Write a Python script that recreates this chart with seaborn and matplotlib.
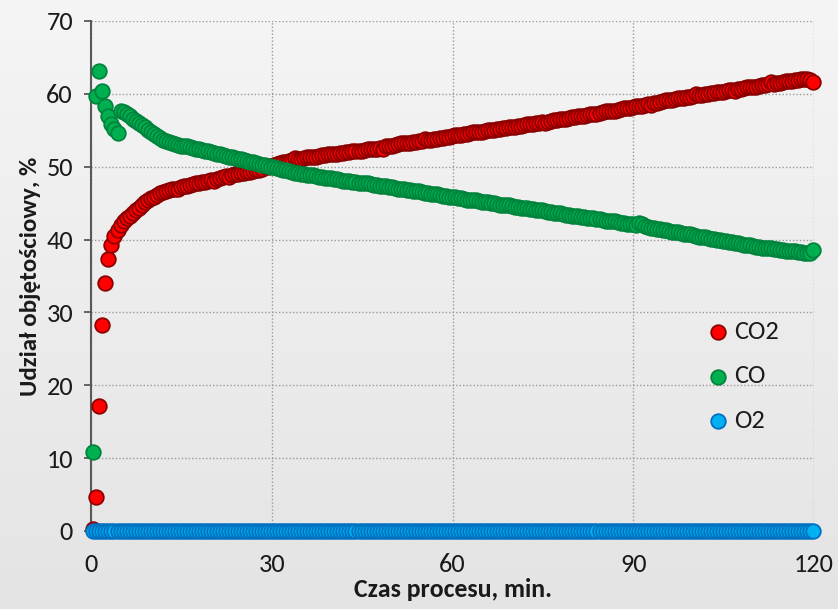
import numpy as np
import pandas as pd
import matplotlib
matplotlib.use("Agg")
import matplotlib.pyplot as plt
from matplotlib import font_manager
from matplotlib.colors import LinearSegmentedColormap
import seaborn as sns

# ---------------- data ----------------
time_min = [
    0.4, 0.9, 1.4, 1.9, 2.4, 2.9, 3.4, 3.9, 4.4, 4.9, 5.4, 5.9, 6.4, 6.9, 7.4, 7.9, 8.4, 8.9, 9.4, 9.9,
    10.4, 10.9, 11.4, 11.9, 12.4, 12.9, 13.4, 13.9, 14.4, 14.9, 15.4, 15.9, 16.4, 16.9, 17.4, 17.9, 18.4, 18.9, 19.4, 19.9,
    20.4, 20.9, 21.4, 21.9, 22.4, 22.9, 23.4, 23.9, 24.4, 24.9, 25.4, 25.9, 26.4, 26.9, 27.4, 27.9, 28.4, 28.9, 29.4, 29.9,
    30.4, 30.9, 31.4, 31.9, 32.4, 32.9, 33.4, 33.9, 34.4, 34.9, 35.4, 35.9, 36.4, 36.9, 37.4, 37.9, 38.4, 38.9, 39.4, 39.9,
    40.4, 40.9, 41.4, 41.9, 42.4, 42.9, 43.4, 43.9, 44.4, 44.9, 45.4, 45.9, 46.4, 46.9, 47.4, 47.9, 48.4, 48.9, 49.4, 49.9,
    50.4, 50.9, 51.4, 51.9, 52.4, 52.9, 53.4, 53.9, 54.4, 54.9, 55.4, 55.9, 56.4, 56.9, 57.4, 57.9, 58.4, 58.9, 59.4, 59.9,
    60.4, 60.9, 61.4, 61.9, 62.4, 62.9, 63.4, 63.9, 64.4, 64.9, 65.4, 65.9, 66.4, 66.9, 67.4, 67.9, 68.4, 68.9, 69.4, 69.9,
    70.4, 70.9, 71.4, 71.9, 72.4, 72.9, 73.4, 73.9, 74.4, 74.9, 75.4, 75.9, 76.4, 76.9, 77.4, 77.9, 78.4, 78.9, 79.4, 79.9,
    80.4, 80.9, 81.4, 81.9, 82.4, 82.9, 83.4, 83.9, 84.4, 84.9, 85.4, 85.9, 86.4, 86.9, 87.4, 87.9, 88.4, 88.9, 89.4, 89.9,
    90.4, 90.9, 91.4, 91.9, 92.4, 92.9, 93.4, 93.9, 94.4, 94.9, 95.4, 95.9, 96.4, 96.9, 97.4, 97.9, 98.4, 98.9, 99.4, 99.9,
    100.4, 100.9, 101.4, 101.9, 102.4, 102.9, 103.4, 103.9, 104.4, 104.9, 105.4, 105.9, 106.4, 106.9, 107.4, 107.9, 108.4, 108.9, 109.4, 109.9,
    110.4, 110.9, 111.4, 111.9, 112.4, 112.9, 113.4, 113.9, 114.4, 114.9, 115.4, 115.9, 116.4, 116.9, 117.4, 117.9, 118.4, 118.9, 119.4, 119.9,
]

co2 = [
    0.3, 4.7, 17.2, 28.3, 34.0, 37.3, 39.3, 40.5, 41.3, 42.0, 42.5, 42.9, 43.3, 43.6, 44.0, 44.4, 44.8, 45.2, 45.4, 45.7,
    45.9, 46.1, 46.4, 46.5, 46.7, 46.8, 46.9, 47.0, 47.0, 47.2, 47.3, 47.3, 47.5, 47.6, 47.7, 47.8, 47.9, 47.9, 48.1, 48.2,
    48.1, 48.3, 48.5, 48.6, 48.7, 48.6, 48.8, 49.0, 49.0, 49.1, 49.2, 49.3, 49.3, 49.4, 49.5, 49.6, 49.7, 49.9, 50.0, 50.1,
    50.3, 50.4, 50.5, 50.6, 50.7, 50.8, 50.9, 51.2, 51.0, 51.1, 51.2, 51.3, 51.3, 51.4, 51.4, 51.5, 51.6, 51.6, 51.7, 51.7,
    51.8, 51.8, 51.9, 51.9, 52.0, 52.0, 52.1, 52.1, 52.2, 52.2, 52.3, 52.4, 52.4, 52.5, 52.5, 52.6, 52.5, 52.8, 52.9, 52.9,
    53.0, 53.1, 53.2, 53.2, 53.3, 53.3, 53.4, 53.4, 53.5, 53.5, 53.8, 53.6, 53.7, 53.8, 53.8, 53.9, 54.0, 54.1, 54.1, 54.2,
    54.3, 54.3, 54.4, 54.5, 54.5, 54.6, 54.7, 54.7, 54.8, 54.8, 54.9, 55.0, 55.0, 55.1, 55.2, 55.2, 55.3, 55.3, 55.4, 55.5,
    55.5, 55.6, 55.6, 55.7, 55.8, 55.8, 55.9, 56.0, 56.0, 56.1, 56.0, 56.2, 56.3, 56.4, 56.4, 56.5, 56.6, 56.6, 56.7, 56.8,
    56.8, 56.9, 57.0, 57.0, 57.1, 57.2, 57.2, 57.3, 57.4, 57.5, 57.7, 57.6, 57.7, 57.7, 57.8, 57.9, 58.0, 58.0, 58.1, 58.2,
    58.3, 58.4, 58.4, 58.5, 58.6, 58.5, 58.8, 58.8, 58.9, 59.0, 59.1, 59.2, 59.2, 59.3, 59.4, 59.4, 59.5, 59.6, 59.6, 59.7,
    60.0, 59.8, 59.9, 60.0, 60.0, 60.1, 60.1, 60.2, 60.3, 60.3, 60.4, 60.5, 60.5, 60.4, 60.7, 60.7, 60.8, 60.9, 60.9, 61.0,
    61.0, 61.1, 61.2, 61.2, 61.3, 61.6, 61.4, 61.5, 61.5, 61.6, 61.7, 61.7, 61.8, 61.9, 61.9, 62.0, 62.0, 62.1, 61.9, 61.6,
]

co = [
    10.8, 59.7, 63.1, 60.4, 58.4, 56.9, 55.8, 55.2, 54.6, 57.7, 57.5, 57.2, 56.9, 56.6, 56.3, 56.0, 55.7, 55.4, 55.1, 54.8,
    54.5, 54.2, 53.9, 53.7, 53.5, 53.4, 53.2, 53.1, 53.0, 52.9, 52.9, 52.8, 52.7, 52.6, 52.5, 52.4, 52.3, 52.2, 52.1, 52.0,
    51.9, 51.8, 51.7, 51.6, 51.5, 51.4, 51.3, 51.2, 51.1, 51.0, 50.9, 50.8, 50.7, 50.6, 50.5, 50.4, 50.3, 50.2, 50.1, 50.0,
    49.9, 49.8, 49.7, 49.6, 49.5, 49.4, 49.3, 49.2, 49.1, 49.0, 49.0, 48.9, 48.9, 48.8, 48.7, 48.6, 48.6, 48.5, 48.5, 48.4,
    48.3, 48.3, 48.2, 48.1, 48.1, 48.0, 47.9, 47.9, 47.8, 47.8, 47.7, 47.7, 47.6, 47.5, 47.5, 47.4, 47.4, 47.3, 47.2, 47.2,
    47.1, 47.0, 47.0, 46.9, 46.8, 46.8, 46.7, 46.6, 46.6, 46.5, 46.4, 46.4, 46.3, 46.2, 46.2, 46.1, 46.0, 46.0, 45.9, 45.9,
    45.8, 45.7, 45.7, 45.6, 45.5, 45.5, 45.4, 45.4, 45.3, 45.2, 45.2, 45.1, 45.0, 45.0, 44.9, 44.8, 44.8, 44.7, 44.7, 44.6,
    44.5, 44.5, 44.4, 44.3, 44.3, 44.2, 44.2, 44.1, 44.0, 44.0, 43.9, 43.8, 43.8, 43.7, 43.6, 43.6, 43.5, 43.4, 43.4, 43.3,
    43.3, 43.2, 43.1, 43.1, 43.0, 42.9, 42.9, 42.8, 42.8, 42.7, 42.6, 42.6, 42.5, 42.5, 42.4, 42.3, 42.3, 42.2, 42.1, 42.1,
    42.0, 42.3, 42.2, 41.8, 41.7, 41.6, 41.6, 41.5, 41.4, 41.3, 41.3, 41.2, 41.1, 41.0, 41.0, 40.9, 40.8, 40.7, 40.7, 40.6,
    40.5, 40.4, 40.4, 40.3, 40.2, 40.1, 40.1, 40.0, 39.9, 39.8, 39.8, 39.7, 39.6, 39.5, 39.5, 39.4, 39.3, 39.2, 39.2, 39.1,
    39.0, 39.0, 38.9, 38.9, 38.8, 38.8, 38.7, 38.7, 38.6, 38.6, 38.5, 38.5, 38.4, 38.4, 38.3, 38.3, 38.2, 38.1, 38.2, 38.6,
]

o2 = [
    0.0, 0.0, 0.0, 0.0, 0.0, 0.0, 0.0, 0.0, 0.0, 0.0, 0.0, 0.0, 0.0, 0.0, 0.0, 0.0, 0.0, 0.0, 0.0, 0.0,
    0.0, 0.0, 0.0, 0.0, 0.0, 0.0, 0.0, 0.0, 0.0, 0.0, 0.0, 0.0, 0.0, 0.0, 0.0, 0.0, 0.0, 0.0, 0.0, 0.0,
    0.0, 0.0, 0.0, 0.0, 0.0, 0.0, 0.0, 0.0, 0.0, 0.0, 0.0, 0.0, 0.0, 0.0, 0.0, 0.0, 0.0, 0.0, 0.0, 0.0,
    0.0, 0.0, 0.0, 0.0, 0.0, 0.0, 0.0, 0.0, 0.0, 0.0, 0.0, 0.0, 0.0, 0.0, 0.0, 0.0, 0.0, 0.0, 0.0, 0.0,
    0.0, 0.0, 0.0, 0.0, 0.0, 0.0, 0.0, 0.0, 0.0, 0.0, 0.0, 0.0, 0.0, 0.0, 0.0, 0.0, 0.0, 0.0, 0.0, 0.0,
    0.0, 0.0, 0.0, 0.0, 0.0, 0.0, 0.0, 0.0, 0.0, 0.0, 0.0, 0.0, 0.0, 0.0, 0.0, 0.0, 0.0, 0.0, 0.0, 0.0,
    0.0, 0.0, 0.0, 0.0, 0.0, 0.0, 0.0, 0.0, 0.0, 0.0, 0.0, 0.0, 0.0, 0.0, 0.0, 0.0, 0.0, 0.0, 0.0, 0.0,
    0.0, 0.0, 0.0, 0.0, 0.0, 0.0, 0.0, 0.0, 0.0, 0.0, 0.0, 0.0, 0.0, 0.0, 0.0, 0.0, 0.0, 0.0, 0.0, 0.0,
    0.0, 0.0, 0.0, 0.0, 0.0, 0.0, 0.0, 0.0, 0.0, 0.0, 0.0, 0.0, 0.0, 0.0, 0.0, 0.0, 0.0, 0.0, 0.0, 0.0,
    0.0, 0.0, 0.0, 0.0, 0.0, 0.0, 0.0, 0.0, 0.0, 0.0, 0.0, 0.0, 0.0, 0.0, 0.0, 0.0, 0.0, 0.0, 0.0, 0.0,
    0.0, 0.0, 0.0, 0.0, 0.0, 0.0, 0.0, 0.0, 0.0, 0.0, 0.0, 0.0, 0.0, 0.0, 0.0, 0.0, 0.0, 0.0, 0.0, 0.0,
    0.0, 0.0, 0.0, 0.0, 0.0, 0.0, 0.0, 0.0, 0.0, 0.0, 0.0, 0.0, 0.0, 0.0, 0.0, 0.0, 0.0, 0.0, 0.0, 0.0,
]

series_names = ["CO2", "CO", "O2"]
x_ticks = [0, 30, 60, 90, 120]
y_ticks = [0, 10, 20, 30, 40, 50, 60, 70]
x_label = "Czas procesu, min."
y_label = "Udział objętościowy, %"

# ---------------- style ----------------
sns.set_theme(style="white")
avail = {f.name for f in font_manager.fontManager.ttflist}
fam = "DejaVu Sans"
for cand in ["Carlito", "Lato", "Open Sans"]:
    if cand in avail:
        fam = cand
        break
plt.rcParams["font.family"] = [fam, "DejaVu Sans"]

face = {"CO2": "#ff0000", "CO": "#00b050", "O2": "#00b0f0"}
edge = {"CO2": "#8a0000", "CO": "#00843c", "O2": "#0070c0"}
values = {"CO2": co2, "CO": co, "O2": o2}
text_col = "#1a1a1a"

fig = plt.figure(figsize=(8.38, 6.09), dpi=100)

# gradient background
bg = fig.add_axes([0, 0, 1, 1], zorder=-10)
grad = np.linspace(0, 1, 256).reshape(-1, 1)
cmap = LinearSegmentedColormap.from_list("bg", ["#f5f5f5", "#e4e4e4"])
bg.imshow(grad, aspect="auto", cmap=cmap, extent=[0, 1, 0, 1], origin="upper")
bg.set_axis_off()

ax = fig.add_axes([91 / 838, 1 - 531 / 609, (814 - 91) / 838, (531 - 21) / 609])
ax.set_facecolor("none")

for name in series_names:
    df = pd.DataFrame({"t": time_min, "v": values[name]})
    sns.scatterplot(data=df, x="t", y="v", ax=ax, color=face[name],
                    edgecolor=edge[name], linewidth=1.3, s=110,
                    label=name, clip_on=False, zorder=3)

ax.set_xlim(0, 120)
ax.set_ylim(0, 70)
ax.set_xticks(x_ticks)
ax.set_yticks(y_ticks)
ax.grid(True, linestyle=(0, (1, 1.5)), color="#9a9a9a", linewidth=1.0)
ax.set_axisbelow(True)

for s in ["top", "right"]:
    ax.spines[s].set_visible(False)
for s in ["left", "bottom"]:
    ax.spines[s].set_color("#595959")
    ax.spines[s].set_linewidth(1.5)

ax.tick_params(axis="y", direction="out", length=5, width=1.3, color="#595959",
               labelsize=19, labelcolor=text_col, pad=8, left=True)
ax.tick_params(axis="x", direction="out", length=3, width=1.3, color="#595959",
               labelsize=19, labelcolor=text_col, pad=13, bottom=True)

ax.set_xlabel(x_label, fontsize=18.5, fontweight="bold", color=text_col, labelpad=1)
ax.set_ylabel(y_label, fontsize=18, fontweight="bold", color=text_col, labelpad=4)

leg = ax.legend(loc="center left", bbox_to_anchor=(0.835, 0.304), frameon=False,
                fontsize=19, labelspacing=0.82, handletextpad=0.1,
                handlelength=1.0, borderaxespad=0)
for t in leg.get_texts():
    t.set_color(text_col)

fig.savefig("out.png", dpi=100)
